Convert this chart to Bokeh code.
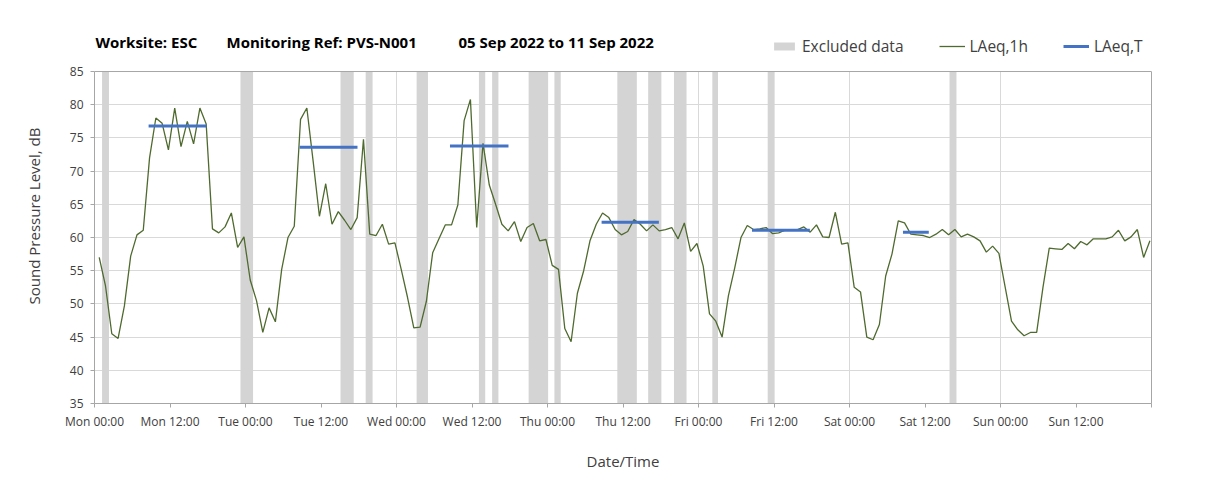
import numpy as np
from bokeh.plotting import figure
from bokeh.models import (Range1d, FixedTicker, Legend, LegendItem, Label,
                          LinearAxis, Span)
from bokeh.embed import file_html
from bokeh.resources import INLINE

# ---------------- data ----------------
# hourly LAeq,1h values (Mon 00:00 .. Sun 23:00), timestamp = hour + 0.75
laeq_1h = [
    57.0, 52.7, 45.5, 44.8, 49.7, 57.2, 60.4, 61.1, 72.0, 78.0, 77.2, 73.2,
    79.5, 73.7, 77.5, 74.1, 79.5, 77.1, 61.3, 60.7, 61.6, 63.7, 58.5, 60.1,
    53.6, 50.5, 45.7, 49.4, 47.3, 55.2, 60.0, 61.7, 77.8, 79.5, 71.5, 63.2,
    68.1, 62.0, 63.9, 62.6, 61.2, 63.0, 74.8, 60.5, 60.3, 62.0, 59.0, 59.2,
    55.2, 51.0, 46.4, 46.5, 50.4, 57.7, 59.8, 61.9, 61.9, 64.9, 77.6, 80.8,
    61.5, 74.2, 67.9, 65.0, 62.0, 61.0, 62.4, 59.4, 61.5, 62.1, 59.5, 59.7,
    55.8, 55.2, 46.3, 44.3, 51.6, 55.0, 59.5, 62.0, 63.7, 63.0, 61.2, 60.4,
    60.9, 62.7, 62.0, 61.0, 61.9, 61.0, 61.2, 61.5, 59.8, 62.2, 57.9, 59.1,
    55.7, 48.5, 47.4, 45.0, 51.2, 55.4, 60.0, 61.8, 61.2, 61.3, 61.5, 60.6,
    60.7, 61.1, 61.2, 61.2, 61.6, 60.8, 61.9, 60.1, 60.0, 63.8, 59.0, 59.2,
    52.5, 51.8, 45.0, 44.6, 46.9, 54.2, 57.5, 62.5, 62.2, 60.5, 60.4, 60.3,
    60.0, 60.5, 61.2, 60.4, 61.2, 60.1, 60.5, 60.1, 59.5, 57.8, 58.7, 57.6,
    52.5, 47.4, 46.1, 45.2, 45.7, 45.7, 52.5, 58.4, 58.3, 58.2, 59.1, 58.3,
    59.4, 58.9, 59.8, 59.8, 59.8, 60.1, 61.1, 59.5, 60.1, 61.2, 57.0, 59.5,
]
hours = [h + 0.75 for h in range(len(laeq_1h))]

# LAeq,T periods (start hour, end hour, level)
t_start = [8.6, 32.6, 56.5, 80.6, 104.5, 128.5]
t_end = [17.8, 41.8, 65.8, 89.7, 113.7, 132.6]
t_level = [76.8, 73.6, 73.8, 62.3, 61.1, 60.8]

# excluded data periods (hours from Mon 00:00)
excl_start = [1.2, 23.2, 39.1, 43.1, 51.2, 61.1, 63.2, 69.0, 73.1, 83.1, 88.0, 92.1, 98.2, 107.0, 135.9]
excl_end = [2.3, 25.2, 41.2, 44.2, 53.0, 62.1, 64.2, 72.1, 74.1, 86.2, 90.1, 94.1, 99.1, 108.1, 137.0]

days = ["Mon", "Tue", "Wed", "Thu", "Fri", "Sat", "Sun"]
x_ticks = list(range(0, 169, 12))
x_labels = {}
for t in x_ticks:
    if t < 168:
        x_labels[t] = f"{days[t // 24]} {'00:00' if t % 24 == 0 else '12:00'}"
    else:
        x_labels[t] = ""
day_lines = list(range(0, 169, 24))
y_ticks = list(range(35, 86, 5))
Y_MIN, Y_MAX = 35, 85

title_parts = ["Worksite: ESC", "Monitoring Ref: PVS-N001", "05 Sep 2022 to 11 Sep 2022"]

FONT = "Open Sans"
TXT = "#404040"
AX = "#A6A6A6"
GRID = "#D9D9D9"

# frame extends above 85 dB so that the title/legend band lies inside it
p = figure(width=1200, height=485, output_backend="svg", toolbar_location=None,
           x_range=Range1d(0, 168), y_range=Range1d(Y_MIN, 91.48),
           min_border_left=94, min_border_right=49, min_border_top=28, min_border_bottom=82)
p.background_fill_color = "white"
p.border_fill_color = "white"
p.outline_line_color = None

# grid
p.xgrid.visible = False
p.ygrid.ticker = FixedTicker(ticks=y_ticks)
p.ygrid.grid_line_color = GRID
p.segment(x0=day_lines, y0=Y_MIN, x1=day_lines, y1=Y_MAX,
          line_color=GRID, line_width=1, level="underlay")

bands = p.quad(left=excl_start, right=excl_end, bottom=Y_MIN, top=Y_MAX,
               fill_color="#D4D4D4", line_color=None)
line1h = p.line(hours, laeq_1h, line_color="#4F6A2E", line_width=1.3)
segT = p.segment(x0=t_start, y0=t_level, x1=t_end, y1=t_level,
                 line_color="#4472C4", line_width=3)

# axes
xax = p.xaxis[0]
yax = p.yaxis[0]
xax.ticker = FixedTicker(ticks=x_ticks)
xax.major_label_overrides = x_labels
yax.ticker = FixedTicker(ticks=y_ticks)
yax.bounds = (Y_MIN, Y_MAX)
for ax in (xax, yax):
    ax.axis_line_color = AX
    ax.major_tick_line_color = AX
    ax.major_tick_out = 4
    ax.major_tick_in = 0
    ax.minor_tick_line_color = None
    ax.major_label_text_font = FONT
    ax.major_label_text_font_size = "12px"
    ax.major_label_text_color = TXT
    ax.axis_label_text_font = FONT
    ax.axis_label_text_font_size = "15px"
    ax.axis_label_text_font_style = "normal"
    ax.axis_label_text_color = TXT
xax.axis_label = "Date/Time"
yax.axis_label = "Sound Pressure Level, dB"
xax.major_label_standoff = 5
yax.major_label_standoff = 7
xax.axis_label_standoff = 18
yax.axis_label_standoff = 23

# plot-area border (top and right)
p.add_layout(Span(location=Y_MAX, dimension="width", line_color=AX, line_width=1))
right_border = LinearAxis(bounds=(Y_MIN, Y_MAX), ticker=FixedTicker(ticks=[]),
                          axis_line_color=AX, major_tick_line_color=None,
                          minor_tick_line_color=None, major_tick_out=0,
                          major_label_standoff=0, axis_label=None)
p.add_layout(right_border, "right")

# title parts (screen units relative to the frame's bottom-left)
for txt, xx in zip(title_parts, [1, 132, 364]):
    p.add_layout(Label(x=xx, y=362, x_units="screen", y_units="screen", text=txt,
                       text_font=FONT, text_font_size="15px",
                       text_font_style="bold", text_color="black",
                       text_baseline="alphabetic"))

legend = Legend(items=[LegendItem(label="Excluded data", renderers=[bands]),
                       LegendItem(label="LAeq,1h", renderers=[line1h]),
                       LegendItem(label="LAeq,T", renderers=[segT])],
                orientation="horizontal", location=(677, 346),
                padding=0, margin=0, spacing=35, label_standoff=5,
                glyph_width=26, glyph_height=10,
                border_line_color=None, background_fill_alpha=0,
                label_text_font=FONT, label_text_font_size="15.5px",
                label_text_color=TXT)
p.add_layout(legend)

open("out.html", "w").write(file_html(p, INLINE))
